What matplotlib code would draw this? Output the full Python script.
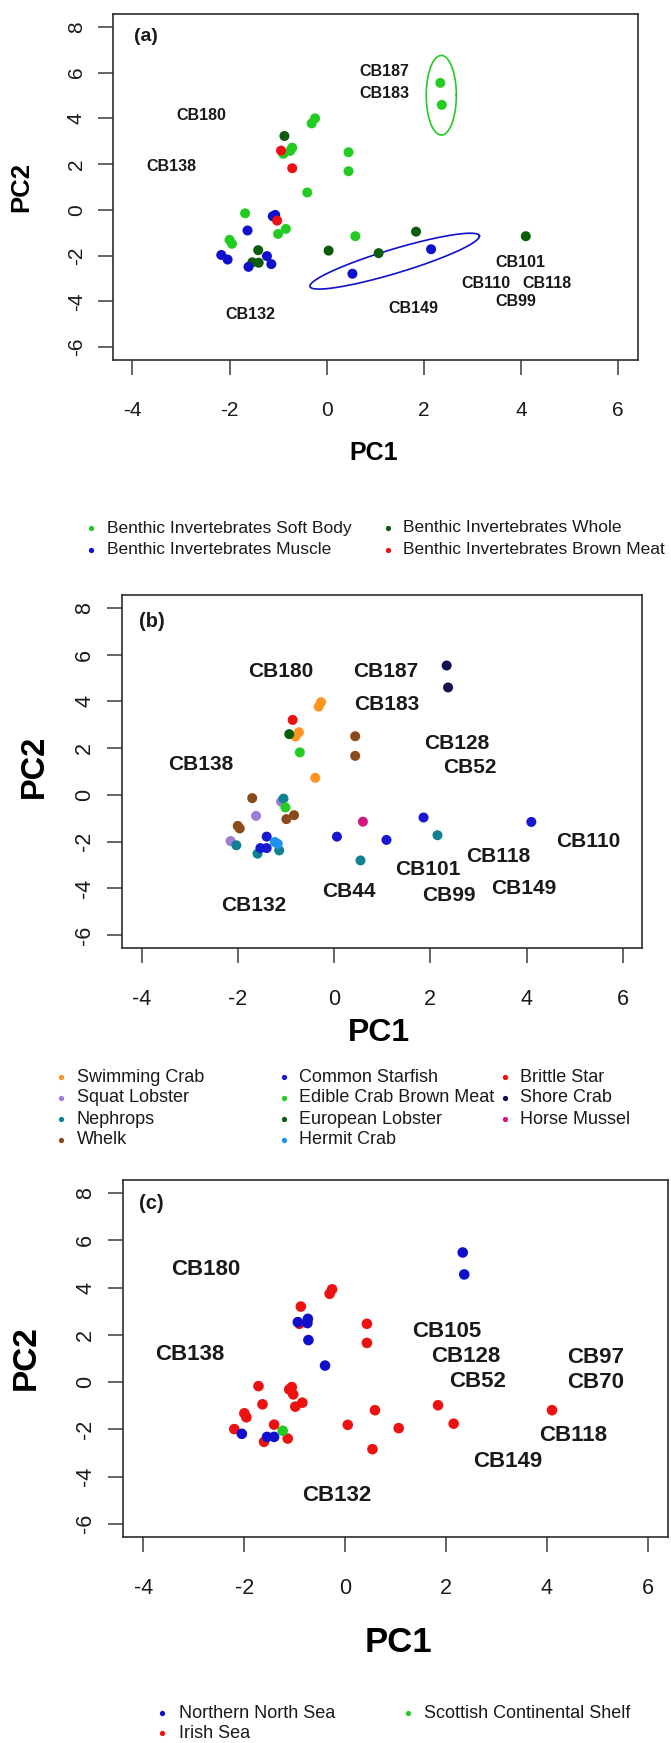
import matplotlib
matplotlib.use("Agg")
import matplotlib.pyplot as plt
import numpy as np
from matplotlib.lines import Line2D

plt.rcParams["font.family"] = ["Liberation Sans", "DejaVu Sans"]
plt.rcParams["axes.unicode_minus"] = False

W, H = 671, 1743

# ---------------- panel (a): tissue type ----------------
A_SOFT = [(2.34, 5.55), (2.37, 4.59), (-0.24, 4.00), (-0.31, 3.78), (-0.71, 2.72),
          (-0.75, 2.58), (-0.89, 2.45), (0.45, 2.52), (0.45, 1.69), (-0.40, 0.76),
          (-1.68, -0.15), (-0.84, -0.83), (-1.00, -1.05), (0.59, -1.15), (-2.00, -1.31),
          (-1.95, -1.48)]
A_WHOLE = [(-0.87, 3.23), (4.10, -1.15), (1.84, -0.95), (0.04, -1.78), (1.07, -1.89),
           (-1.41, -1.76), (-1.53, -2.29), (-1.40, -2.31)]
A_MUSCLE = [(-1.06, -0.22), (-1.11, -0.28), (-1.63, -0.90), (-2.17, -1.97), (-2.04, -2.17),
            (-1.23, -2.02), (-1.14, -2.37), (-1.61, -2.49), (0.53, -2.79), (2.15, -1.72)]
A_BROWN = [(-0.94, 2.59), (-0.71, 1.82), (-1.02, -0.47)]
A_NAMES = ["Benthic Invertebrates Soft Body", "Benthic Invertebrates Muscle",
           "Benthic Invertebrates Whole", "Benthic Invertebrates Brown Meat"]
A_LABELS = ["CB187", "CB183", "CB180", "CB138", "CB132", "CB149", "CB101", "CB110", "CB118", "CB99"]
A_LABEL_X = [1.18, 1.18, -2.59, -3.19, -1.57, 1.78, 3.99, 3.27, 4.54, 3.90]
A_LABEL_Y = [6.04, 5.07, 4.12, 1.89, -4.59, -4.32, -2.29, -3.20, -3.20, -4.00]

# ---------------- panel (b): species ----------------
B_SWIMMING = [(-0.27, 3.97), (-0.32, 3.78), (-0.73, 2.68), (-0.80, 2.50), (-0.39, 0.73)]
B_SQUAT = [(-1.62, -0.90), (-1.10, -0.29), (-2.15, -1.98)]
B_NEPHROPS = [(-1.05, -0.16), (-2.03, -2.16), (-1.59, -2.52), (-1.14, -2.38), (0.55, -2.81),
              (2.15, -1.73)]
B_WHELK = [(0.44, 2.51), (0.44, 1.67), (-1.70, -0.14), (-2.00, -1.33), (-1.96, -1.44),
           (-0.99, -1.04), (-0.83, -0.87)]
B_STARFISH = [(-1.40, -1.79), (-1.53, -2.28), (-1.40, -2.28), (0.06, -1.79), (1.09, -1.93),
              (1.86, -0.97), (4.10, -1.16)]
B_EDIBLE = [(-0.71, 1.82), (-1.01, -0.54)]
B_EUROPEAN = [(-0.93, 2.60)]
B_HERMIT = [(-1.23, -2.02), (-1.17, -2.10)]
B_BRITTLE = [(-0.86, 3.21)]
B_SHORE = [(2.34, 5.54), (2.37, 4.60)]
B_MUSSEL = [(0.60, -1.15)]
B_NAMES = ["Swimming Crab", "Squat Lobster", "Nephrops", "Whelk",
           "Common Starfish", "Edible Crab Brown Meat", "European Lobster", "Hermit Crab",
           "Brittle Star", "Shore Crab", "Horse Mussel"]
B_LABELS = ["CB180", "CB187", "CB183", "CB128", "CB52", "CB138", "CB110", "CB118", "CB101",
            "CB44", "CB99", "CB149", "CB132"]
B_LABEL_X = [-1.11, 1.08, 1.09, 2.55, 2.82, -2.77, 5.28, 3.42, 1.95, 0.30, 2.38, 3.95, -1.66]
B_LABEL_Y = [5.30, 5.30, 3.86, 2.18, 1.17, 1.29, -1.98, -2.66, -3.19, -4.15, -4.31, -4.01, -4.72]

# ---------------- panel (c): region ----------------
C_NORTH = [(2.33, 5.49), (2.36, 4.56), (-0.94, 2.54), (-0.74, 2.68), (-0.75, 2.50),
           (-0.73, 1.78), (-0.40, 0.70), (-2.05, -2.19), (-1.55, -2.32), (-1.41, -2.32)]
C_IRISH = [(-0.26, 3.93), (-0.31, 3.74), (-0.88, 3.20), (-0.91, 2.47), (0.43, 2.47),
           (0.43, 1.66), (-1.72, -0.17), (-1.06, -0.21), (-1.11, -0.31), (-1.03, -0.52),
           (-1.64, -0.94), (-0.85, -0.87), (-0.99, -1.04), (-2.00, -1.32), (-1.96, -1.49),
           (-2.20, -1.99), (-1.41, -1.80), (-1.61, -2.53), (-1.14, -2.39), (0.05, -1.81),
           (0.59, -1.19), (1.06, -1.95), (0.54, -2.84), (1.84, -0.98), (2.15, -1.76),
           (4.10, -1.19)]
C_SCOTTISH = [(-1.24, -2.06)]
C_NAMES = ["Northern North Sea", "Irish Sea", "Scottish Continental Shelf"]
C_LABELS = ["CB180", "CB138", "CB105", "CB128", "CB52", "CB97", "CB70", "CB118", "CB149", "CB132"]
C_LABEL_X = [-2.76, -3.08, 2.01, 2.38, 2.62, 4.96, 4.96, 4.52, 3.23, -0.16]
C_LABEL_Y = [4.78, 1.19, 2.15, 1.10, 0.04, 1.03, -0.03, -2.28, -3.36, -4.80]

X_TICKS = [-4, -2, 0, 2, 4, 6]
Y_TICKS = [-6, -4, -2, 0, 2, 4, 6, 8]

GREEN, DKGREEN, BLUE, RED = "#22cc22", "#0b5c0b", "#1010cc", "#ee1111"
TXT = "#1a1a1a"


def px_axes(fig, left, top, right, bottom):
    return fig.add_axes([left / W, 1 - bottom / H, (right - left) / W, (bottom - top) / H])


def style(ax, tick_size):
    ax.set_xlim(-4.4, 6.4)
    ax.set_ylim(-6.56, 8.56)
    ax.set_xticks(X_TICKS)
    ax.set_yticks(Y_TICKS)
    for s in ax.spines.values():
        s.set_linewidth(1.2)
        s.set_color("#2e2e2e")
    ax.tick_params(direction="out", length=10.5, width=1.1, color="#3a3a3a",
                   labelsize=tick_size, labelcolor=TXT)
    ax.tick_params(axis="x", pad=19)
    ax.tick_params(axis="y", pad=9, labelrotation=90)
    for lab in ax.get_yticklabels():
        lab.set_va("center")


def scatter_groups(ax, groups, colors, size):
    for pts, col in zip(groups, colors):
        xy = np.array(pts)
        ax.scatter(xy[:, 0], xy[:, 1], s=size, color=col, edgecolors="none", zorder=3)


def labels(ax, names, xs, ys, size):
    for s, x, y in zip(names, xs, ys):
        ax.text(x, y, s, ha="center", va="center", fontsize=size, fontweight="bold", color=TXT)


def legend(fig, names, colors, col_marker_x, col_text_x, row_y, nrows, size):
    for i, (name, col) in enumerate(zip(names, colors)):
        c, r = divmod(i, nrows)
        y = 1 - row_y[r] / H
        fig.add_artist(Line2D([col_marker_x[c] / W], [y], marker="o", ms=3.8, color=col,
                              mec="none", transform=fig.transFigure))
        fig.text(col_text_x[c] / W, y, name, ha="left", va="center", fontsize=size, color=TXT)


def axis_titles(fig, xlab_xy, ylab_xy, xsize, ysize):
    fig.text(xlab_xy[0] / W, 1 - xlab_xy[1] / H, "PC1", ha="center", va="center",
             fontsize=xsize, fontweight="bold", color="black")
    fig.text(ylab_xy[0] / W, 1 - ylab_xy[1] / H, "PC2", ha="center", va="center",
             rotation=90, fontsize=ysize, fontweight="bold", color="black")


fig = plt.figure(figsize=(W / 100, H / 100), dpi=100)

# (a)
ax = px_axes(fig, 113, 14, 637.5, 360)
style(ax, 15)
scatter_groups(ax, [A_SOFT, A_WHOLE, A_MUSCLE, A_BROWN], [GREEN, DKGREEN, BLUE, RED], 52)
labels(ax, A_LABELS, A_LABEL_X, A_LABEL_Y, 11.5)
ax.text(-3.73, 7.57, "(a)", ha="center", va="center", fontsize=14, fontweight="bold", color=TXT)
t = np.linspace(0, 2 * np.pi, 200)
ax.plot(2.36 + 0.31 * np.cos(t), 5.01 + 1.74 * np.sin(t), color=GREEN, lw=1.2)
ax.plot(1.40 + 1.745 * np.cos(t), -2.24 + 1.09 * np.cos(t) + 0.55 * np.sin(t), color=BLUE, lw=1.2)
axis_titles(fig, (374, 453), (21, 187), 18, 18.5)
legend(fig, A_NAMES, [GREEN, BLUE, DKGREEN, RED], [91, 388], [107, 403], [528, 550], 2, 12.5)

# (b)
ax = px_axes(fig, 122.3, 595, 642, 948)
style(ax, 15.5)
b_groups = [B_SWIMMING, B_SQUAT, B_NEPHROPS, B_WHELK, B_STARFISH, B_EDIBLE, B_EUROPEAN,
            B_HERMIT, B_BRITTLE, B_SHORE, B_MUSSEL]
b_colors = ["#ff9420", "#9c7ed8", "#118090", "#8b4a1c", "#1818d0", GREEN, DKGREEN,
            "#1c92ea", RED, "#12124e", "#d0187e"]
scatter_groups(ax, b_groups, b_colors, 52)
labels(ax, B_LABELS, B_LABEL_X, B_LABEL_Y, 15)
ax.text(-3.78, 7.44, "(b)", ha="center", va="center", fontsize=14.5, fontweight="bold", color=TXT)
axis_titles(fig, (379, 1033), (34, 766), 23, 23.5)
legend(fig, B_NAMES, b_colors, [61, 283.5, 504.5], [77, 299, 519.5], [1077, 1098, 1119, 1140], 4, 13)

# (c)
ax = px_axes(fig, 123.3, 1180, 668, 1537)
style(ax, 15.5)
c_colors = [BLUE, RED, GREEN]
scatter_groups(ax, [C_IRISH, C_NORTH, C_SCOTTISH], [RED, BLUE, GREEN], 58)
labels(ax, C_LABELS, C_LABEL_X, C_LABEL_Y, 16)
ax.text(-3.84, 7.58, "(c)", ha="center", va="center", fontsize=14.5, fontweight="bold", color=TXT)
axis_titles(fig, (398, 1642), (26, 1358), 25, 24)
legend(fig, C_NAMES, c_colors, [162, 408], [179, 424], [1713, 1733], 2, 13)

fig.savefig("out.png", dpi=100)
